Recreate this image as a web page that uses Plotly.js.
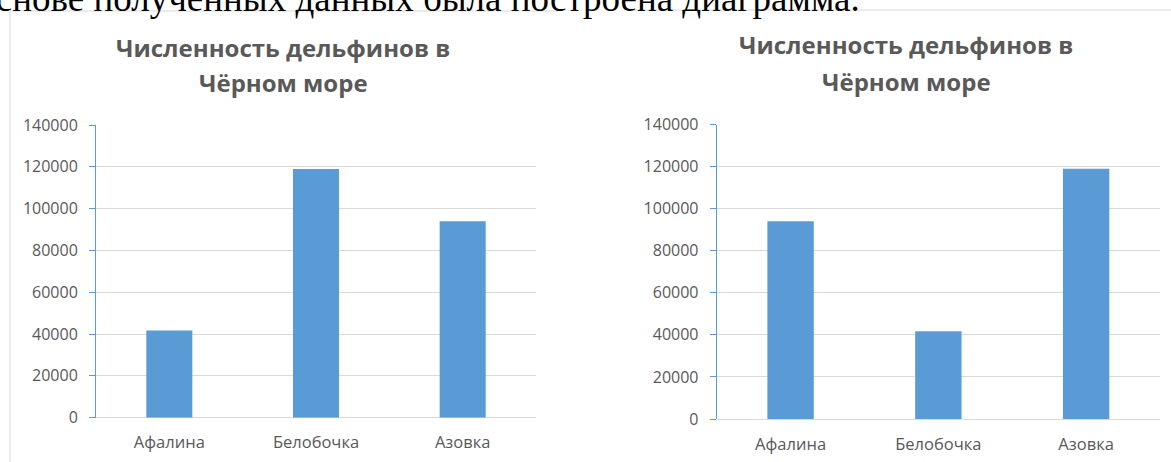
<!DOCTYPE html>
<html>
<head>
<meta charset="utf-8">
<script src="https://cdn.plot.ly/plotly-3.0.1.min.js"></script>
<style>
html,body{margin:0;padding:0;background:#fff;}
#chart{width:1171px;height:462px;}
</style>
</head>
<body>
<div id="chart"></div>
<script>
// Data
var categories = ["Афалина", "Белобочка", "Азовка"];
var valuesLeft = [41700, 119000, 94000];
var valuesRight = [94000, 41700, 119000];
var yTickVals = [0, 20000, 40000, 60000, 80000, 100000, 120000, 140000];
var titleLine1 = "Численность дельфинов в";
var titleLine2 = "Чёрном море";
var pageText = "На основе полученных данных была построена диаграмма.";

var W = 1171, H = 462;
function px(x){ return x / W; }
function py(y){ return (H - y) / H; }

var barColor = "#5B9BD5";
var gridColor = "#D9D9D9";
var textColor = "#595959";
var yTickFont = {family: "Open Sans, sans-serif", size: 16, color: textColor};
var xTickFont = {family: "Open Sans, sans-serif", size: 16.5, color: textColor};

var traces = [
  {type: "bar", x: categories, y: valuesLeft, xaxis: "x", yaxis: "y",
   marker: {color: barColor}, hoverinfo: "x+y", showlegend: false},
  {type: "bar", x: categories, y: valuesRight, xaxis: "x2", yaxis: "y2",
   marker: {color: barColor}, hoverinfo: "x+y", showlegend: false}
];

function yAxis(domain, anchor){
  return {
    domain: domain, anchor: anchor, range: [0, 140000],
    tickvals: yTickVals, ticktext: yTickVals.map(String),
    showline: true, linecolor: barColor, linewidth: 1,
    ticks: "outside", tickcolor: barColor, ticklen: 6, tickwidth: 1,
    showgrid: true, gridcolor: gridColor, gridwidth: 1,
    zeroline: true, zerolinecolor: gridColor, zerolinewidth: 1,
    tickfont: yTickFont, ticklabelstandoff: 8, fixedrange: true
  };
}
function xAxis(domain, anchor){
  return {
    domain: domain, anchor: anchor, type: "category",
    showline: false, ticks: "", showgrid: false, zeroline: false,
    tickfont: xTickFont, ticklabelstandoff: 13, fixedrange: true
  };
}

var titleFont = {family: "Open Sans, sans-serif", size: 24, color: textColor, weight: 700};

var annotations = [
  {text: titleLine1, xref: "paper", yref: "paper", x: px(283), y: py(47), xanchor: "center", yanchor: "middle", showarrow: false, font: titleFont},
  {text: titleLine2, xref: "paper", yref: "paper", x: px(283), y: py(83), xanchor: "center", yanchor: "middle", showarrow: false, font: titleFont},
  {text: titleLine1, xref: "paper", yref: "paper", x: px(906), y: py(45), xanchor: "center", yanchor: "middle", showarrow: false, font: titleFont},
  {text: titleLine2, xref: "paper", yref: "paper", x: px(906), y: py(81), xanchor: "center", yanchor: "middle", showarrow: false, font: titleFont},
  {text: pageText, xref: "paper", yref: "paper", x: px(862), y: py(-2), xanchor: "right", yanchor: "middle", showarrow: false,
   font: {family: "Liberation Serif, Times New Roman, serif", size: 37, color: "#000000"}}
];

var shapes = [
  {type: "line", xref: "paper", yref: "paper", x0: px(10), x1: px(558), y0: py(11), y1: py(11), line: {color: gridColor, width: 1}},
  {type: "line", xref: "paper", yref: "paper", x0: px(10), x1: px(10), y0: py(11), y1: py(462), line: {color: gridColor, width: 1}},
  {type: "line", xref: "paper", yref: "paper", x0: px(629), x1: px(1171), y0: py(10), y1: py(10), line: {color: gridColor, width: 1}}
];

var layout = {
  width: W, height: H,
  margin: {l: 0, r: 0, t: 0, b: 0, pad: 0},
  paper_bgcolor: "#ffffff", plot_bgcolor: "#ffffff",
  bargap: 0.686,
  xaxis: xAxis([px(96), px(536)], "y"),
  yaxis: yAxis([py(417.7), py(125)], "x"),
  xaxis2: xAxis([px(716.7), px(1160)], "y2"),
  yaxis2: yAxis([py(419), py(124.5)], "x2"),
  annotations: annotations,
  shapes: shapes,
  showlegend: false
};

Plotly.newPlot("chart", traces, layout, {displayModeBar: false, staticPlot: true});
</script>
</body>
</html>
